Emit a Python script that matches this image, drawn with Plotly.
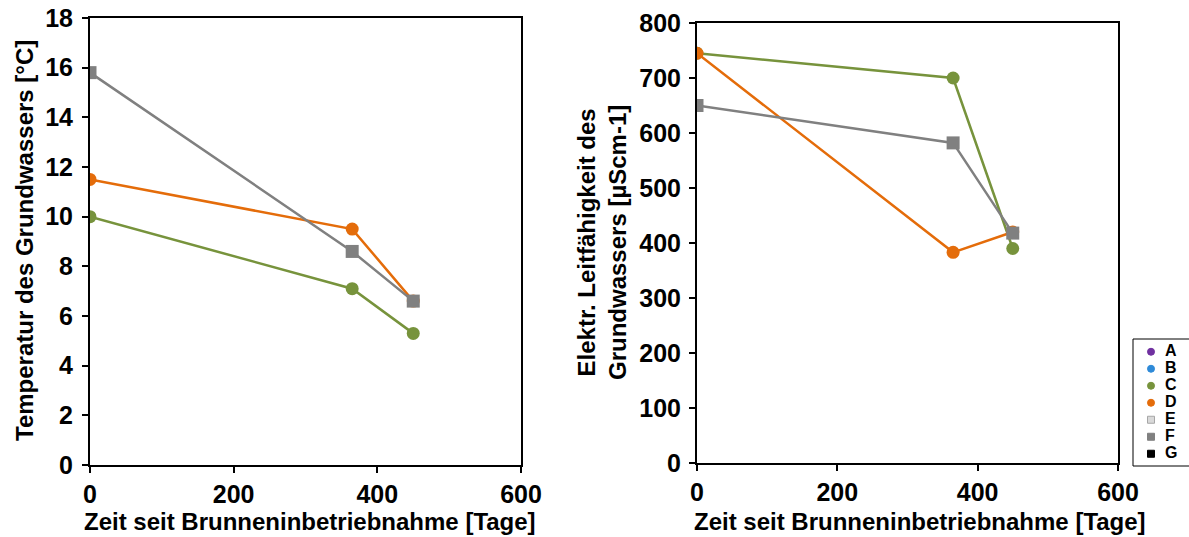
import plotly.graph_objects as go

# Sampling days since the well went into operation
days = [0, 365, 450]

# Groundwater temperature [°C]
temp_C = [10.0, 7.1, 5.3]
temp_D = [11.5, 9.5, 6.6]
temp_F = [15.8, 8.6, 6.6]

# Electrical conductivity [µS/cm]
cond_C = [745, 700, 390]
cond_D = [745, 383, 420]
cond_F = [650, 582, 418]

# Key entries (wells)
key_names = ["A", "B", "C", "D", "E", "F", "G"]
key_colors = ["#7030A0", "#2E8AD8", "#77933C", "#E46C0A", "#D9D9D9", "#808080", "#000000"]
key_symbols = ["circle", "circle", "circle", "circle", "square", "square", "square"]
key_edges = ["#7030A0", "#2E8AD8", "#77933C", "#E46C0A", "#A6A6A6", "#808080", "#000000"]

FONT = "Liberation Sans, Arial, sans-serif"
W, H = 1189, 537


def px_x(x):
    return x / W


def px_y(y):
    return 1 - y / H


fig = go.Figure()

series = [
    ("C", temp_C, cond_C, "#77933C", "circle", 13),
    ("D", temp_D, cond_D, "#E46C0A", "circle", 13),
    ("F", temp_F, cond_F, "#808080", "square", 13),
]
for name, t, c, col, sym, size in series:
    for ys, xa, ya in ((t, "x", "y"), (c, "x2", "y2")):
        fig.add_trace(go.Scatter(
            x=days, y=ys, mode="lines+markers", name=name, showlegend=False,
            line=dict(color=col, width=2.5),
            marker=dict(color=col, symbol=sym, size=size),
            xaxis=xa, yaxis=ya, hoverinfo="x+y+name"))

# Key: one marker per well on its own small axis, labels to the right
for i, (name, col, sym, edge) in enumerate(zip(key_names, key_colors, key_symbols, key_edges)):
    fig.add_trace(go.Scatter(
        x=[18], y=[i], mode="markers", name=name, showlegend=False,
        marker=dict(color=col, symbol=sym, size=7, line=dict(color=edge, width=1)),
        xaxis="x3", yaxis="y3", hoverinfo="name"))
fig.add_trace(go.Scatter(
    x=[32] * len(key_names), y=list(range(len(key_names))), mode="text",
    text=key_names, textposition="middle right", showlegend=False,
    textfont=dict(family=FONT, size=16, color="black", weight="bold"),
    xaxis="x3", yaxis="y3", hoverinfo="skip"))

axis_common = dict(
    showgrid=False, zeroline=False, showline=True, linecolor="black", linewidth=2,
    mirror=True, ticks="outside", ticklen=6, tickwidth=2, tickcolor="black",
    automargin=False,
    tickfont=dict(family=FONT, size=25, color="black", weight="bold"),
)
hidden = dict(visible=False, showgrid=False, zeroline=False, fixedrange=True, automargin=False)

fig.update_layout(
    template="none",
    width=W, height=H,
    margin=dict(l=0, r=0, t=0, b=0, autoexpand=False),
    paper_bgcolor="white", plot_bgcolor="white",
    font=dict(family=FONT, color="black"),
    showlegend=False,
    xaxis=dict(domain=[px_x(90), px_x(521)], range=[0, 600], dtick=200, anchor="y", **axis_common),
    yaxis=dict(domain=[px_y(465), px_y(18)], range=[0, 18], dtick=2, anchor="x",
               ticklabelstandoff=4, **axis_common),
    xaxis2=dict(domain=[px_x(697), px_x(1118)], range=[0, 600], dtick=200, anchor="y2", **axis_common),
    yaxis2=dict(domain=[px_y(463), px_y(23)], range=[0, 800], dtick=100, anchor="x2",
                ticklabelstandoff=3, **axis_common),
    xaxis3=dict(domain=[px_x(1133), 1.0], range=[0, 56], anchor="y3", **hidden),
    yaxis3=dict(domain=[px_y(466), px_y(339)], range=[6.72, -0.75], anchor="x3", **hidden),
    shapes=[dict(type="rect", xref="paper", yref="paper",
                 x0=px_x(1133), x1=px_x(1192), y0=px_y(466), y1=px_y(339),
                 line=dict(color="black", width=1), fillcolor="rgba(0,0,0,0)", layer="below")],
)

title_font = dict(family=FONT, size=24, color="black", weight="bold")
annotations = [
    dict(text="Zeit seit Brunneninbetriebnahme [Tage]", x=310, y=521),
    dict(text="Zeit seit Brunneninbetriebnahme [Tage]", x=920, y=521),
    dict(text="Temperatur des Grundwassers [°C]", x=24, y=241, textangle=-90),
    dict(text="Elektr. Leitfähigkeit des<br>Grundwassers [µScm-1]", x=602, y=243, textangle=-90),
]
for a in annotations:
    fig.add_annotation(
        text=a["text"], xref="paper", yref="paper",
        x=px_x(a["x"]), y=px_y(a["y"]), xanchor="center", yanchor="middle",
        textangle=a.get("textangle", 0), showarrow=False, font=title_font)

fig.write_html("out.html")
